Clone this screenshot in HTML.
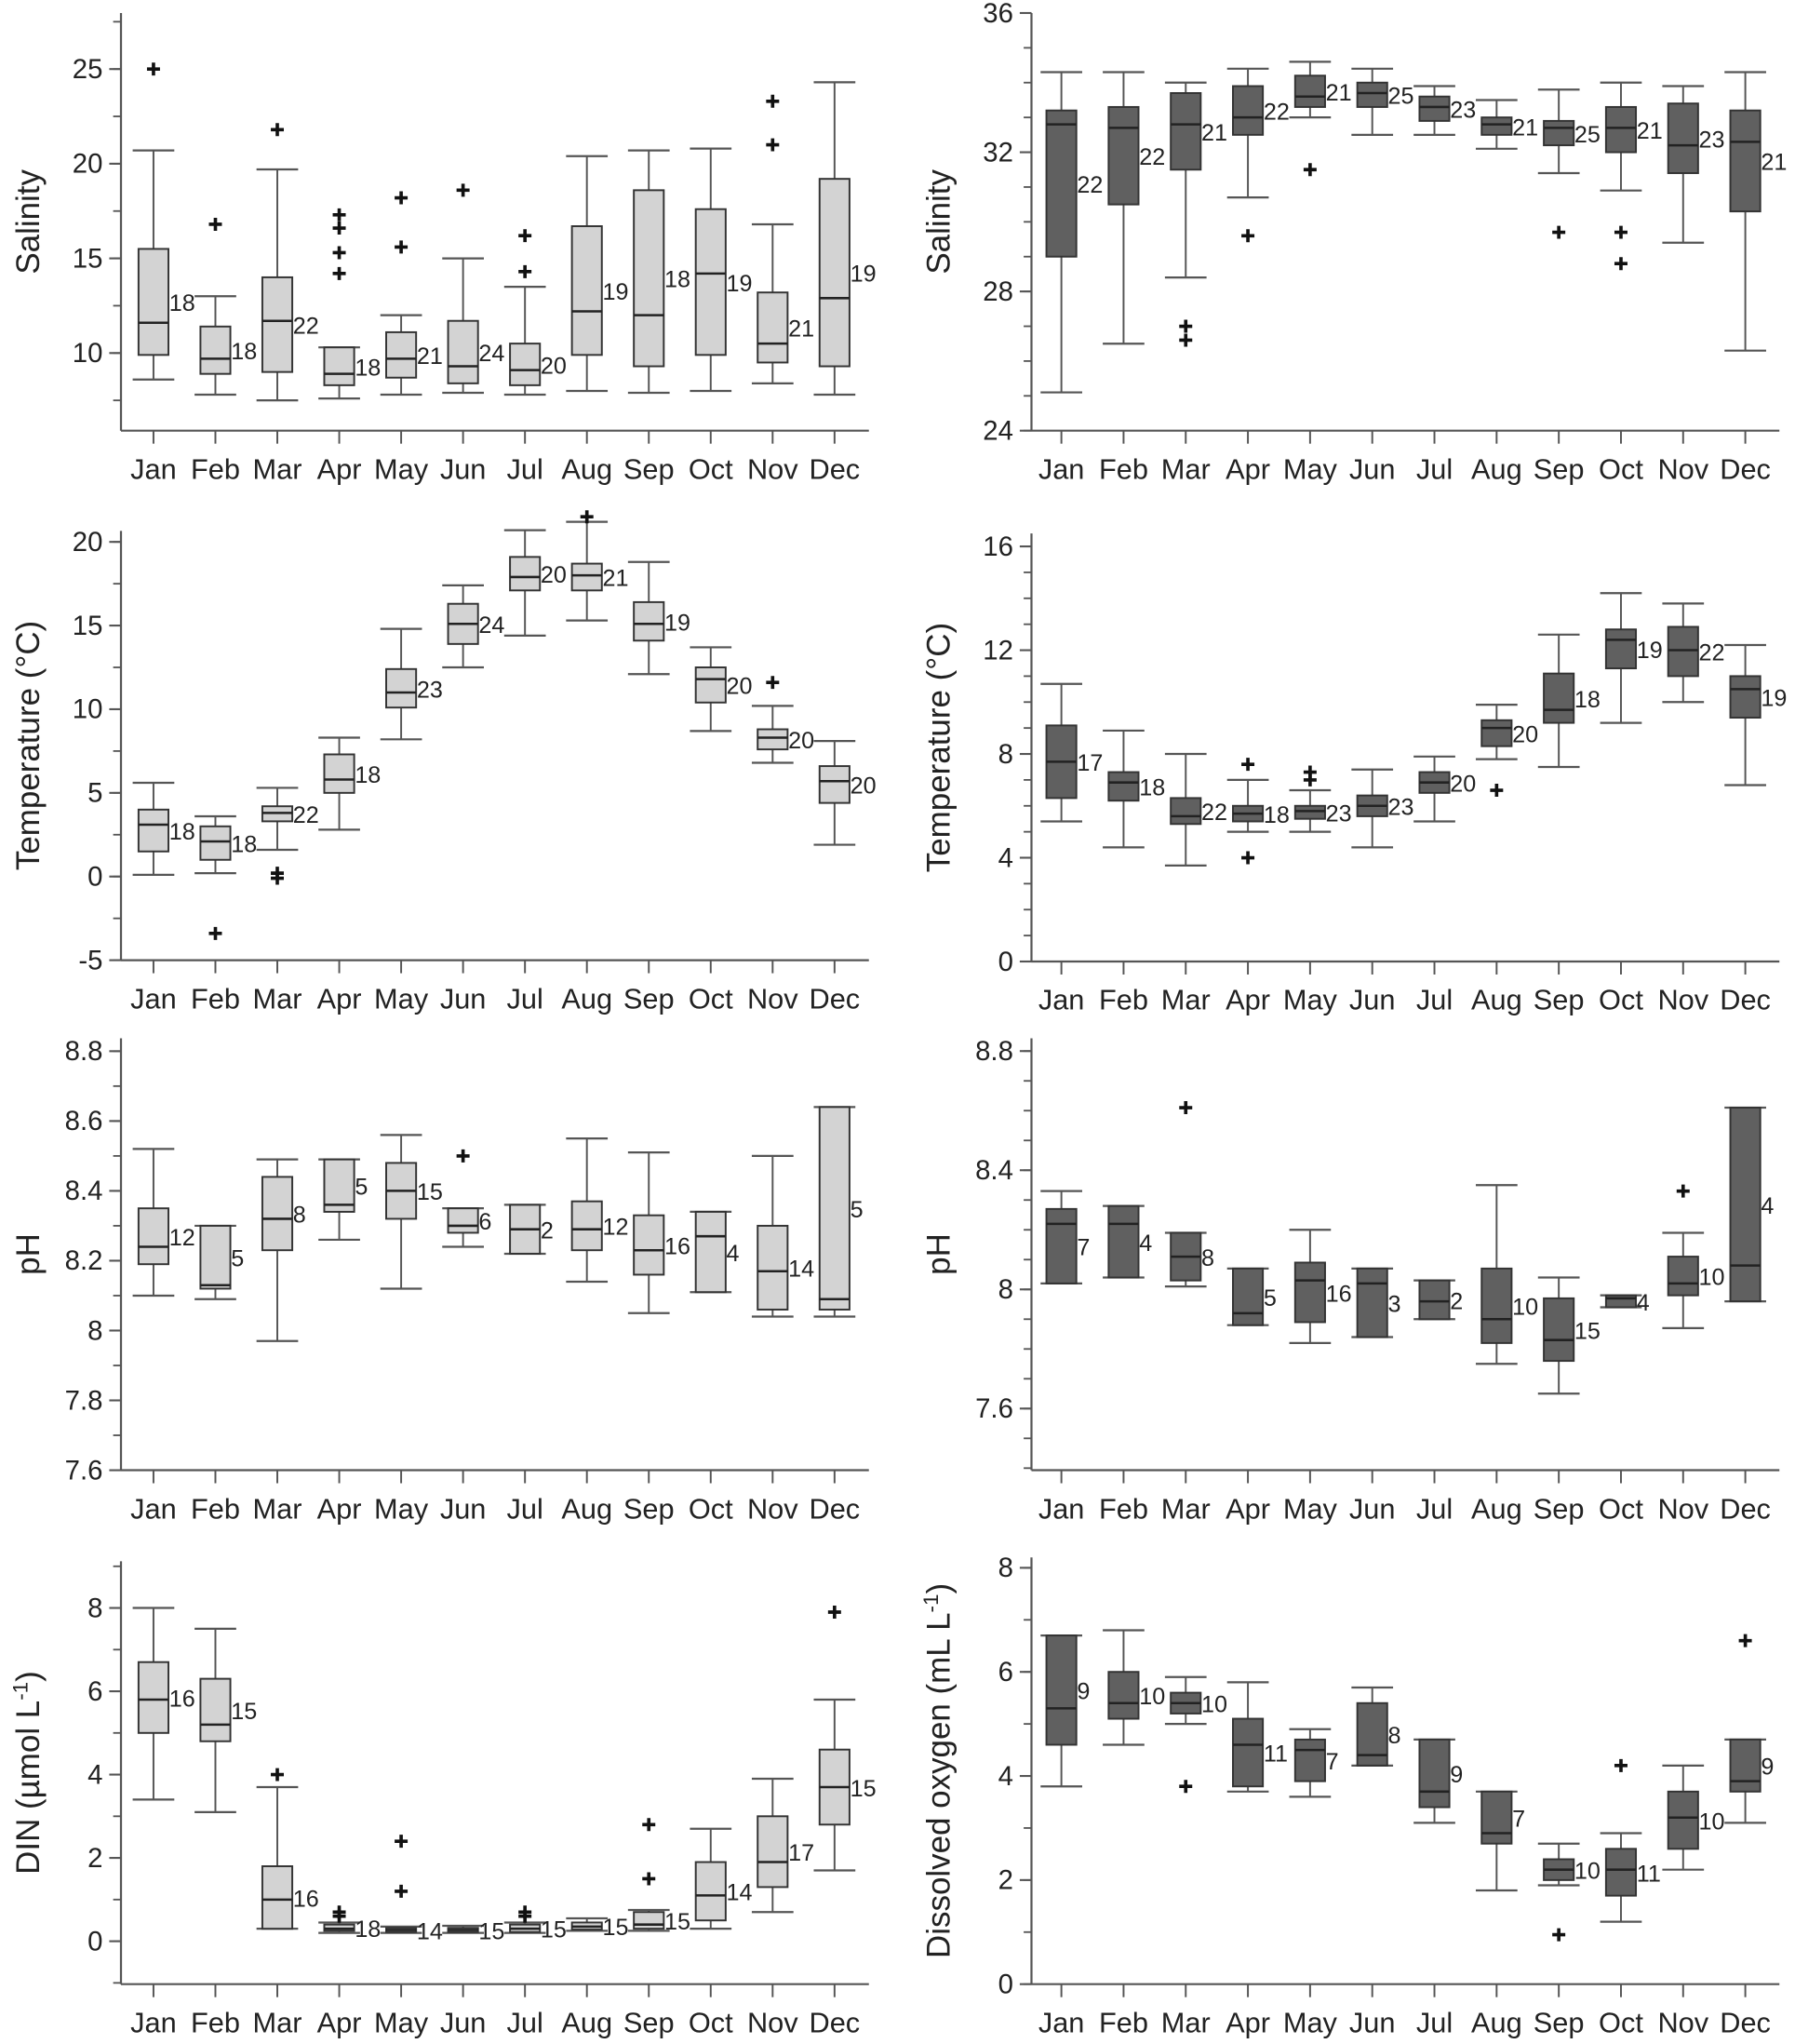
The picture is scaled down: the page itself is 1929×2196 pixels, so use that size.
<!DOCTYPE html>
<html><head><meta charset="utf-8">
<style>
html,body{margin:0;padding:0;background:#fff;}
svg{display:block;font-family:"Liberation Sans",Arial,sans-serif;}
</style></head>
<body>
<svg id="fig" width="1929" height="2196" viewBox="0 0 1380 1571" xmlns="http://www.w3.org/2000/svg"></svg>
<script>
const months = ["Jan","Feb","Mar","Apr","May","Jun","Jul","Aug","Sep","Oct","Nov","Dec"];

// each series: [lowWhisker, q1, median, q3, highWhisker]
const salLeftBoxes = [[8.6,9.9,11.6,15.5,20.7],[7.8,8.9,9.7,11.4,13.0],[7.5,9.0,11.7,14.0,19.7],[7.6,8.3,8.9,10.3,10.3],[7.8,8.7,9.7,11.1,12.0],[7.9,8.4,9.3,11.7,15.0],[7.8,8.3,9.1,10.5,13.5],[8.0,9.9,12.2,16.7,20.4],[7.9,9.3,12.0,18.6,20.7],[8.0,9.9,14.2,17.6,20.8],[8.4,9.5,10.5,13.2,16.8],[7.8,9.3,12.9,19.2,24.3]];
const salLeftN = [18,18,22,18,21,24,20,19,18,19,21,19];
const salLeftOut = [[25],[16.8],[21.8],[14.2,15.3,16.6,17.3],[15.6,18.2],[18.6],[14.3,16.2],[],[],[],[21.0,23.3],[]];

const salRightBoxes = [[25.1,29.0,32.8,33.2,34.3],[26.5,30.5,32.7,33.3,34.3],[28.4,31.5,32.8,33.7,34.0],[30.7,32.5,33.0,33.9,34.4],[33.0,33.3,33.6,34.2,34.6],[32.5,33.3,33.7,34.0,34.4],[32.5,32.9,33.3,33.6,33.9],[32.1,32.5,32.8,33.0,33.5],[31.4,32.2,32.7,32.9,33.8],[30.9,32.0,32.7,33.3,34.0],[29.4,31.4,32.2,33.4,33.9],[26.3,30.3,32.3,33.2,34.3]];
const salRightN = [22,22,21,22,21,25,23,21,25,21,23,21];
const salRightOut = [[],[],[27.0,26.6],[29.6],[31.5],[],[],[],[29.7],[29.7,28.8],[],[]];

const tempLeftBoxes = [[0.1,1.5,3.1,4.0,5.6],[0.2,1.0,2.1,3.0,3.6],[1.6,3.3,3.8,4.2,5.3],[2.8,5.0,5.8,7.3,8.3],[8.2,10.1,11.0,12.4,14.8],[12.5,13.9,15.1,16.3,17.4],[14.4,17.1,17.9,19.1,20.7],[15.3,17.1,18.0,18.7,21.2],[12.1,14.1,15.1,16.4,18.8],[8.7,10.4,11.8,12.5,13.7],[6.8,7.6,8.3,8.8,10.2],[1.9,4.4,5.7,6.6,8.1]];
const tempLeftN = [18,18,22,18,23,24,20,21,19,20,20,20];
const tempLeftOut = [[],[-3.4],[0.2,-0.1],[],[],[],[],[21.5],[],[],[11.6],[]];

const tempRightBoxes = [[5.4,6.3,7.7,9.1,10.7],[4.4,6.2,6.9,7.3,8.9],[3.7,5.3,5.6,6.3,8.0],[5.0,5.4,5.7,6.0,7.0],[5.0,5.5,5.8,6.0,6.6],[4.4,5.6,6.0,6.4,7.4],[5.4,6.5,6.9,7.3,7.9],[7.8,8.3,9.0,9.3,9.9],[7.5,9.2,9.7,11.1,12.6],[9.2,11.3,12.4,12.8,14.2],[10.0,11.0,12.0,12.9,13.8],[6.8,9.4,10.5,11.0,12.2]];
const tempRightN = [17,18,22,18,23,23,20,20,18,19,22,19];
const tempRightOut = [[],[],[],[7.6,4.0],[7.0,7.3],[],[],[6.6],[],[],[],[]];

const phLeftBoxes = [[8.10,8.19,8.24,8.35,8.52],[8.09,8.12,8.13,8.30,8.30],[7.97,8.23,8.32,8.44,8.49],[8.26,8.34,8.36,8.49,8.49],[8.12,8.32,8.40,8.48,8.56],[8.24,8.28,8.30,8.35,8.35],[8.22,8.22,8.29,8.36,8.36],[8.14,8.23,8.29,8.37,8.55],[8.05,8.16,8.23,8.33,8.51],[8.11,8.11,8.27,8.34,8.34],[8.04,8.06,8.17,8.30,8.50],[8.04,8.06,8.09,8.64,8.64]];
const phLeftN = [12,5,8,5,15,6,2,12,16,4,14,5];
const phLeftOut = [[],[],[],[],[],[8.50],[],[],[],[],[],[]];

const phRightBoxes = [[8.02,8.02,8.22,8.27,8.33],[8.04,8.04,8.22,8.28,8.28],[8.01,8.03,8.11,8.19,8.19],[7.88,7.88,7.92,8.07,8.07],[7.82,7.89,8.03,8.09,8.20],[7.84,7.84,8.02,8.07,8.07],[7.90,7.90,7.96,8.03,8.03],[7.75,7.82,7.90,8.07,8.35],[7.65,7.76,7.83,7.97,8.04],[7.94,7.94,7.97,7.98,7.98],[7.87,7.98,8.02,8.11,8.19],[7.96,7.96,8.08,8.61,8.61]];
const phRightN = [7,4,8,5,16,3,2,10,15,4,10,4];
const phRightOut = [[],[],[8.61],[],[],[],[],[],[],[],[8.33],[]];

const dinBoxes = [[3.4,5.0,5.8,6.7,8.0],[3.1,4.8,5.2,6.3,7.5],[0.3,0.3,1.0,1.8,3.7],[0.2,0.25,0.3,0.4,0.45],[0.2,0.22,0.27,0.32,0.35],[0.2,0.22,0.27,0.32,0.37],[0.2,0.22,0.3,0.4,0.45],[0.25,0.28,0.35,0.45,0.55],[0.25,0.3,0.4,0.7,0.75],[0.3,0.5,1.1,1.9,2.7],[0.7,1.3,1.9,3.0,3.9],[1.7,2.8,3.7,4.6,5.8]];
const dinN = [16,15,16,18,14,15,15,15,15,14,17,15];
const dinOut = [[],[],[4.0],[0.6,0.7],[1.2,2.4],[],[0.6,0.7],[],[1.5,2.8],[],[],[7.9]];

const doBoxes = [[3.8,4.6,5.3,6.7,6.7],[4.6,5.1,5.4,6.0,6.8],[5.0,5.2,5.4,5.6,5.9],[3.7,3.8,4.6,5.1,5.8],[3.6,3.9,4.5,4.7,4.9],[4.2,4.2,4.4,5.4,5.7],[3.1,3.4,3.7,4.7,4.7],[1.8,2.7,2.9,3.7,3.7],[1.9,2.0,2.2,2.4,2.7],[1.2,1.7,2.2,2.6,2.9],[2.2,2.6,3.2,3.7,4.2],[3.1,3.7,3.9,4.7,4.7]];
const doN = [9,10,10,11,7,8,9,7,10,11,10,9];
const doOut = [[],[],[3.8],[],[],[],[],[],[0.95],[4.2],[],[6.6]];

const salLeftTicks = ["10","15","20","25"];
const salRightTicks = ["24","28","32","36"];
const tempLeftTicks = ["-5","0","5","10","15","20"];
const tempRightTicks = ["0","4","8","12","16"];
const phLeftTicks = ["7.6","7.8","8","8.2","8.4","8.6","8.8"];
const phRightTicks = ["7.6","8","8.4","8.8"];
const dinTicks = ["0","2","4","6","8"];
const doTicks = ["0","2","4","6","8"];

const NS="http://www.w3.org/2000/svg";
const svg=document.getElementById('fig');
function mk(tag,attrs,parent){const e=document.createElementNS(NS,tag);for(const k in attrs)e.setAttribute(k,attrs[k]);(parent||svg).appendChild(e);return e;}

function panel(cfg){
  const g=mk('g',{});
  
  
  const yScale=v=>cfg.pyB-(v-cfg.vB)/(cfg.vT-cfg.vB)*(cfg.pyB-cfg.pyT);
  const xScale=i=>cfg.x0+i*cfg.dx;
  // axes
  const ya=mk('line',{x1:cfg.ax,y1:cfg.pyT,x2:cfg.ax,y2:cfg.pyB,stroke:'#555','stroke-width':1.6},g);
  
  
  const xa=mk('line',{x1:cfg.ax,y1:cfg.pyB,x2:cfg.axEnd,y2:cfg.pyB,stroke:'#555','stroke-width':1.6},g);
  
  
  // minor ticks
  for(let v=Math.ceil(cfg.vB/cfg.minor)*cfg.minor; v<=cfg.vT+1e-9; v+=cfg.minor){
    const y=yScale(v);
    mk('line',{x1:cfg.ax-6,y1:y,x2:cfg.ax,y2:y,stroke:'#555','stroke-width':1.3},g);
  }
  cfg.ticks.forEach(t=>{
    const y=yScale(parseFloat(t));
    mk('line',{x1:cfg.ax-9,y1:y,x2:cfg.ax,y2:y,stroke:'#555','stroke-width':1.5},g);
    const tx=mk('text',{x:cfg.ax-14,y:y+7,'font-size':21,'text-anchor':'end',fill:'#222'},g);
    tx.textContent=t;
    
    
  });
  const tt=mk('text',{x:0,y:0,'font-size':25,'text-anchor':'middle',fill:'#222',transform:`translate(${cfg.titleX},${(cfg.pyT+cfg.pyB)/2}) rotate(-90)`},g);
  
  
  if(cfg.titleSup){
    tt.appendChild(document.createTextNode(cfg.title));
    const s=mk('tspan',{'font-size':16,dy:-9},tt);s.textContent=cfg.titleSup;
    const s2=mk('tspan',{'font-size':25,dy:9},tt);s2.textContent=')';
  } else tt.textContent=cfg.title;
  months.forEach((m,i)=>{
    const x=xScale(i);
    mk('line',{x1:x,y1:cfg.pyB,x2:x,y2:cfg.pyB+10,stroke:'#555','stroke-width':1.4},g);
    const t=mk('text',{x:x,y:cfg.pyB+37,'font-size':22,'text-anchor':'middle',fill:'#222'},g);
    t.textContent=m;
    
    
  });
  cfg.boxes.forEach((b,i)=>{
    const x=xScale(i);
    const bg=mk('g',{},g);
    
    
    const lw=yScale(b[0]),q1=yScale(b[1]),md=yScale(b[2]),q3=yScale(b[3]),hw=yScale(b[4]);
    mk('line',{x1:x,y1:hw,x2:x,y2:q3,stroke:'#555','stroke-width':1.4},bg);
    mk('line',{x1:x,y1:q1,x2:x,y2:lw,stroke:'#555','stroke-width':1.4},bg);
    mk('line',{x1:x-16,y1:hw,x2:x+16,y2:hw,stroke:'#555','stroke-width':1.6},bg);
    mk('line',{x1:x-16,y1:lw,x2:x+16,y2:lw,stroke:'#555','stroke-width':1.6},bg);
    mk('rect',{x:x-11.5,y:q3,width:23,height:Math.max(q1-q3,1),fill:cfg.fill,stroke:'#333','stroke-width':1.4},bg);
    mk('line',{x1:x-11.5,y1:md,x2:x+11.5,y2:md,stroke:'#222','stroke-width':1.8},bg);
    const nl=mk('text',{x:x+12,y:(q1+q3)/2+7,'font-size':18,fill:'#222'},bg);
    nl.textContent=cfg.n[i];
    
    
    cfg.out[i].forEach(o=>{
      const y=yScale(o);
      const p=mk('path',{d:`M${x-5},${y}H${x+5}M${x},${y-5}V${y+5}`,stroke:'#111','stroke-width':2.6},bg);
      
      
    });
  });
}
const L={ax:93,axEnd:668,x0:118,dx:47.6,titleX:30,fill:'#d3d3d3'};
const R={ax:793,axEnd:1368,x0:816,dx:47.8,titleX:730,fill:'#606060'};
panel({...L,name:'salinity-left-panel',pyT:10,pyB:331,vT:27.96,vB:5.9,minor:2.5,ticks:salLeftTicks,title:'Salinity',boxes:salLeftBoxes,n:salLeftN,out:salLeftOut});
panel({...R,name:'salinity-right-panel',pyT:10,pyB:331,vT:36,vB:24,minor:1,ticks:salRightTicks,title:'Salinity',boxes:salRightBoxes,n:salRightN,out:salRightOut});
panel({...L,name:'temperature-left-panel',pyT:408,pyB:738,vT:20.66,vB:-5,minor:2.5,ticks:tempLeftTicks,title:'Temperature (°C)',boxes:tempLeftBoxes,n:tempLeftN,out:tempLeftOut});
panel({...R,name:'temperature-right-panel',pyT:410,pyB:739,vT:16.5,vB:0,minor:1,ticks:tempRightTicks,title:'Temperature (°C)',boxes:tempRightBoxes,n:tempRightN,out:tempRightOut});
panel({...L,name:'ph-left-panel',pyT:798,pyB:1130,vT:8.837,vB:7.6,minor:0.1,ticks:phLeftTicks,title:'pH',boxes:phLeftBoxes,n:phLeftN,out:phLeftOut});
panel({...R,name:'ph-right-panel',pyT:798,pyB:1130,vT:8.843,vB:7.393,minor:0.1,ticks:phRightTicks,title:'pH',boxes:phRightBoxes,n:phRightN,out:phRightOut});
panel({...L,name:'din-panel',pyT:1200,pyB:1525,vT:9.12,vB:-1.03,minor:1,ticks:dinTicks,title:'DIN (µmol L',titleSup:'-1',boxes:dinBoxes,n:dinN,out:dinOut});
panel({...R,name:'dissolved-oxygen-panel',pyT:1197,pyB:1525,vT:8.2,vB:0,minor:1,ticks:doTicks,title:'Dissolved oxygen (mL L',titleSup:'-1',boxes:doBoxes,n:doN,out:doOut});
</script>
</body></html>
